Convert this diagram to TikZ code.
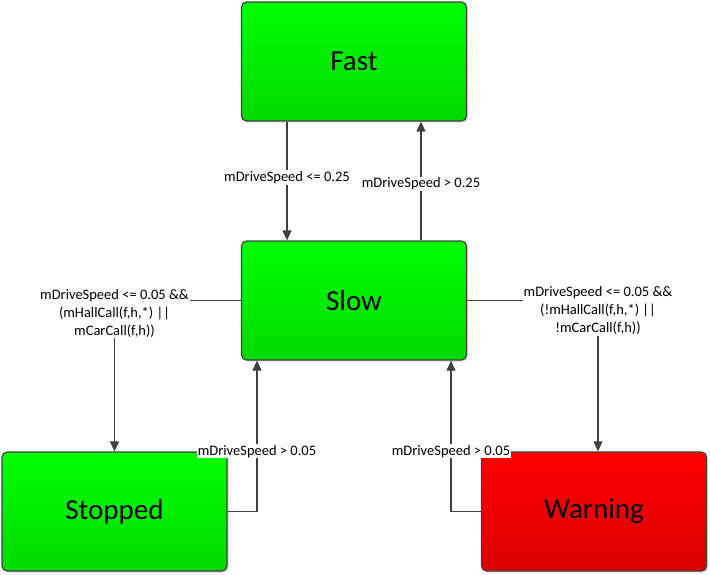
\documentclass[tikz,border=0pt]{standalone}
\usepackage{fontspec}
\setmainfont{Carlito}
\usetikzlibrary{arrows.meta,shadows}
\definecolor{linegray}{HTML}{404040}
\definecolor{greentop}{HTML}{00FF00}
\definecolor{greenbot}{HTML}{00DA00}
\definecolor{redtop}{HTML}{FF0000}
\definecolor{redbot}{HTML}{DA0000}
\begin{document}
\begin{tikzpicture}[x=1pt,y=-1pt,
    state/.style={
        draw = linegray,
        line width = 1.2pt,
        rounded corners = 5pt,
        minimum width = 225pt,
        minimum height = 119pt,
        font = \fontsize{29}{32}\selectfont,
        drop shadow = {shadow xshift=1.5pt, shadow yshift=-1.5pt, opacity=0.3}
    },
    okstate/.style={state, top color=greentop, bottom color=greenbot},
    badstate/.style={state, top color=redtop, bottom color=redbot},
    arr/.style={
        draw = linegray,
        line width = 1.2pt,
        -{Triangle[length=10pt,width=9pt]}
    },
    lbl/.style={
        fill = white,
        inner sep = 1pt,
        align = center,
        font = \fontsize{14.5}{18}\selectfont
    }
]
            \useasboundingbox (0,0) rectangle (710,575);
            \node[okstate] (fast) at (354,61.5) {Fast};
            \node[okstate] (slow) at (354,300.5) {Slow};
            \node[okstate] (stopped) at (114.5,511.5) {Stopped};
            \node[badstate] (warning) at (594,511.5) {Warning};
            \draw[arr] ([xshift=-67pt]fast.south) -- node[lbl, pos=0.47] {mDriveSpeed <= 0.25} ([xshift=-67pt]slow.north);
            \draw[arr] ([xshift=67pt]slow.north) -- node[lbl, pos=0.475] {mDriveSpeed > 0.25} ([xshift=67pt]fast.south);
            \draw[arr] (slow.west) -| node[lbl, pos=0.5, yshift=-12.5pt] {mDriveSpeed <= 0.05 \&\&\\(mHallCall(f,h,*) ||\\mCarCall(f,h))} (stopped.north);
            \draw[arr] (slow.east) -| node[lbl, pos=0.5, yshift=-10pt] {mDriveSpeed <= 0.05 \&\&\\(!mHallCall(f,h,*) ||\\!mCarCall(f,h))} ([xshift=4pt]warning.north);
            \draw[arr] (stopped.east) -| node[lbl, pos=0.7] {mDriveSpeed > 0.05} ([xshift=-97pt]slow.south);
            \draw[arr] (warning.west) -| node[lbl, pos=0.7] {mDriveSpeed > 0.05} ([xshift=97pt]slow.south);
\end{tikzpicture}
\end{document}
